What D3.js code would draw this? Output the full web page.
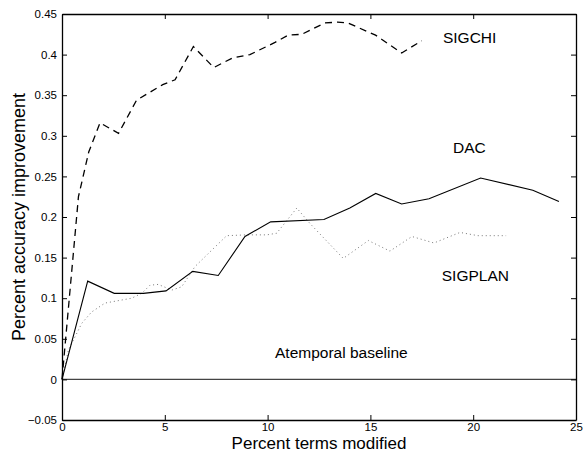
<!DOCTYPE html>
<html><head><meta charset="utf-8">
<script src="https://cdn.jsdelivr.net/npm/d3@7"></script>
<style>body{margin:0;background:#fff}svg{display:block;font-family:"Liberation Sans",Arial,Helvetica,sans-serif}</style>
</head><body><svg id="c" width="583" height="453"></svg>
<script>
const sigchiX = [0, 0.8, 1.3, 1.85, 2.75, 3.63, 4.9, 5.5, 6.39, 7.38, 8.3, 9.14, 10.36, 11.0, 11.66, 12.79, 13.4, 13.9, 15.25, 16.52, 17.5];
const sigchiY = [0, 0.225, 0.28, 0.316, 0.303, 0.344, 0.363, 0.369, 0.41, 0.384, 0.396, 0.40, 0.415, 0.424, 0.425, 0.439, 0.44, 0.439, 0.424, 0.402, 0.417];
const dacX = [0, 1.25, 2.54, 3.96, 5.06, 6.36, 7.6, 8.9, 10.15, 12.74, 14.0, 15.26, 16.52, 17.85, 20.36, 22.9, 24.17];
const dacY = [0, 0.121, 0.106, 0.106, 0.109, 0.133, 0.128, 0.176, 0.194, 0.197, 0.211, 0.229, 0.216, 0.2225, 0.248, 0.233, 0.219];
const sigplanX = [0, 0.31, 0.96, 1.44, 2.09, 3.39, 3.88, 4.28, 4.68, 5.34, 5.82, 6.47, 7.44, 8.01, 8.98, 9.96, 10.44, 11.42, 12.06, 13.68, 14.9, 15.95, 17.02, 18.09, 19.36, 20.23, 21.6];
const sigplanY = [0, 0.036, 0.069, 0.083, 0.094, 0.10, 0.106, 0.116, 0.117, 0.110, 0.114, 0.139, 0.163, 0.177, 0.178, 0.178, 0.18, 0.211, 0.192, 0.149, 0.171, 0.158, 0.176, 0.168, 0.181, 0.177, 0.177];
const xTicks = [0, 5, 10, 15, 20, 25];
const yTicks = [-0.05, 0, 0.05, 0.1, 0.15, 0.2, 0.25, 0.3, 0.35, 0.4, 0.45];
const yTickLabels = ["\u22120.05", "0", "0.05", "0.1", "0.15", "0.2", "0.25", "0.3", "0.35", "0.4", "0.45"];
const labels = [
  {text: "SIGCHI", x: 18.53, y: 0.414},
  {text: "DAC", x: 19.02, y: 0.279},
  {text: "SIGPLAN", x: 18.47, y: 0.1206},
  {text: "Atemporal baseline", x: 10.36, y: 0.026}
];

const L = 62, R = 576, T = 14, B = 420;
const x = d3.scaleLinear().domain([0, 25]).range([L, R]);
const y = d3.scaleLinear().domain([-0.05, 0.45]).range([B, T]);
const svg = d3.select("#c");

// baseline
svg.append("line").attr("x1", x(0)).attr("x2", x(25)).attr("y1", y(0)).attr("y2", y(0))
  .attr("stroke", "#444").attr("stroke-width", 1.4);

const line = d3.line().x(d => x(d[0])).y(d => y(d[1]));
const zip = (a, b) => a.map((v, i) => [v, b[i]]);

svg.append("path").attr("d", line(zip(sigplanX, sigplanY))).attr("fill", "none")
  .attr("stroke", "#777").attr("stroke-width", 1).attr("stroke-dasharray", "1,3");
svg.append("path").attr("d", line(zip(dacX, dacY))).attr("fill", "none")
  .attr("stroke", "#000").attr("stroke-width", 1.1);
svg.append("path").attr("d", line(zip(sigchiX, sigchiY))).attr("fill", "none")
  .attr("stroke", "#000").attr("stroke-width", 1.3).attr("stroke-dasharray", "7,5");

// axes
const fmtY = d => yTickLabels[yTicks.indexOf(d)];
const axB = svg.append("g").attr("transform", `translate(0,${B})`)
  .call(d3.axisBottom(x).tickValues(xTicks).tickSizeInner(-5).tickSizeOuter(0).tickPadding(3));
const axT = svg.append("g").attr("transform", `translate(0,${T})`)
  .call(d3.axisTop(x).tickValues(xTicks).tickSizeInner(-5).tickSizeOuter(0).tickFormat(""));
const axL = svg.append("g").attr("transform", `translate(${L},0)`)
  .call(d3.axisLeft(y).tickValues(yTicks).tickSizeInner(-5).tickSizeOuter(0).tickPadding(5).tickFormat(fmtY));
const axR = svg.append("g").attr("transform", `translate(${R},0)`)
  .call(d3.axisRight(y).tickValues(yTicks).tickSizeInner(-5).tickSizeOuter(0).tickFormat(""));
[axB, axT, axL, axR].forEach(g => {
  g.select(".domain").attr("stroke", "#000").attr("stroke-width", 1.3);
  g.selectAll(".tick line").attr("stroke", "#000").attr("stroke-width", 1);
  g.selectAll("text").attr("font-size", 11.5).attr("fill", "#000").attr("font-family", "Liberation Sans, Arial, sans-serif");
});

// axis titles
svg.append("text").attr("x", (L + R) / 2).attr("y", 449).attr("text-anchor", "middle")
  .attr("font-size", 17).text("Percent terms modified");
svg.append("text").attr("transform", `translate(25,${(T + B) / 2}) rotate(-90)`).attr("text-anchor", "middle")
  .attr("font-size", 18).text("Percent accuracy improvement");

// annotations
svg.selectAll("text.ann").data(labels).enter().append("text").attr("class", "ann")
  .attr("x", d => x(d.x)).attr("y", d => y(d.y)).attr("font-size", 15.5)
  .text(d => d.text);
</script></body></html>
